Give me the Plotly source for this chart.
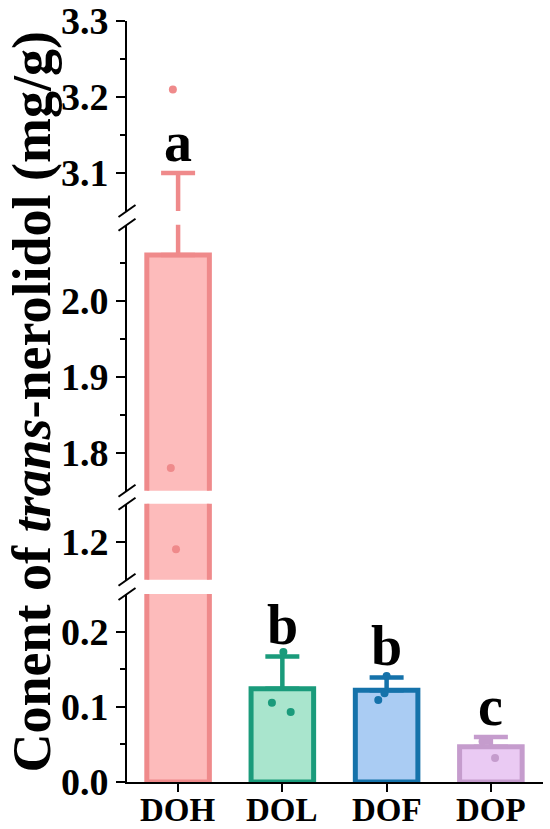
import plotly.graph_objects as go

# ---------------- data ----------------
groups = ["DOH", "DOL", "DOF", "DOP"]
means = [2.06, 0.124, 0.122, 0.047]
sds = [1.04, 0.043, 0.017, 0.013]
letters = ["a", "b", "b", "c"]
pts_DOH = [3.21, 1.78, 1.19]
pts_DOL = [0.173, 0.1055, 0.093]
pts_DOF = [0.141, 0.118, 0.109]
pts_DOP = [0.055, 0.054, 0.032]
jit_DOH = [-0.05, -0.07, -0.02]
jit_DOL = [0.01, -0.10, 0.08]
jit_DOF = [0.00, -0.02, -0.08]
jit_DOP = [-0.04, -0.08, 0.04]

points = [pts_DOH, pts_DOL, pts_DOF, pts_DOP]
jitters = [jit_DOH, jit_DOL, jit_DOF, jit_DOP]

fills = ["#FDBBBB", "#A9E5CD", "#AACCF3", "#EACAF3"]
lines = ["#EF8A8B", "#1A9B7B", "#1572AA", "#C59CCD"]

# ---------------- layout geometry ----------------
W, H = 550, 829
ML, MR, MT, MB = 127, 7, 21, 47
PW, PH = W - ML - MR, H - MT - MB

def py(pix):  # pixel y -> paper y
    return (H - MB - pix) / PH

def px(pix):
    return (pix - ML) / PW

# segments bottom -> top: (axis name, range, pixel bottom, pixel top, major ticks, minor ticks)
segments = [
    ("y",  [0.0, 0.25], 782.0, 594.0, [0.0, 0.1, 0.2], [0.05, 0.15]),
    ("y2", [1.15, 1.25], 579.7, 503.7, [1.2], []),
    ("y3", [1.75, 2.10], 490.7, 224.7, [1.8, 1.9, 2.0], [1.85, 1.95, 2.05]),
    ("y4", [3.05, 3.30], 211.0, 21.0, [3.1, 3.2, 3.3], [3.15, 3.25]),
]

FONT = "Liberation Serif"
fig = go.Figure()

for ax, rng, pb, pt, maj, mnr in segments:
    for i, g in enumerate(groups):
        fig.add_trace(go.Bar(
            x=[i], y=[means[i]], width=0.6, yaxis=ax, xaxis="x",
            marker=dict(color=fills[i], line=dict(color=lines[i], width=5)),
            error_y=dict(type="data", array=[sds[i]], arrayminus=[0], symmetric=False,
                         color=lines[i], thickness=4.5, width=17),
            showlegend=False, hoverinfo="skip"))
    for i, g in enumerate(groups):
        fig.add_trace(go.Scatter(
            x=[i + j for j in jitters[i]], y=points[i], mode="markers", yaxis=ax, xaxis="x",
            marker=dict(color=lines[i], size=8), showlegend=False, hoverinfo="skip"))

layout_axes = {}
for k, (ax, rng, pb, pt, maj, mnr) in enumerate(segments):
    name = "yaxis" if ax == "y" else "yaxis" + ax[1:]
    layout_axes[name] = dict(
        domain=[py(pb), py(pt)], range=rng, anchor="x", automargin=False,
        showline=True, linecolor="black", linewidth=2,
        ticks="outside", ticklen=9, tickwidth=2, tickcolor="black",
        tickvals=maj, ticktext=["%.1f" % v for v in maj],
        tickfont=dict(family=FONT, size=38, color="black", weight="bold"),
        minor=dict(tickvals=mnr, ticks="outside", ticklen=5, tickwidth=2, tickcolor="black"),
        showgrid=False, zeroline=False, fixedrange=True,
    )

fig.update_layout(
    width=W, height=H,
    margin=dict(l=ML, r=MR, t=MT, b=MB, pad=0, autoexpand=False),
    paper_bgcolor="white", plot_bgcolor="white",
    barmode="overlay",
    xaxis=dict(range=[-0.49, 3.5], tickvals=list(range(len(groups))), showticklabels=False,
               showline=True, linecolor="black", linewidth=2, automargin=False,
               ticks="outside", ticklen=8, tickwidth=2, tickcolor="black",
               showgrid=False, zeroline=False, anchor="y", fixedrange=True),
    **layout_axes,
)

# category labels (drawn as annotations so they sit close under the ticks)
for i, g in enumerate(groups):
    fig.add_annotation(x=i, y=py(810), xref="x", yref="paper", text=g, showarrow=False,
                       xanchor="center", yanchor="middle",
                       font=dict(family=FONT, size=33, color="black", weight="bold"))

# break marks
for ax, rng, pb, pt, maj, mnr in segments:
    ends = []
    if ax != "y":
        ends.append(pb)
    if ax != "y4":
        ends.append(pt)
    for e in ends:
        fig.add_shape(type="line", xref="paper", yref="paper",
                      x0=px(118.5), x1=px(135.5), y0=py(e + 6), y1=py(e - 6),
                      line=dict(color="black", width=2))

# significance letters
for i, g in enumerate(groups):
    top = means[i] + sds[i]
    yref = "y4" if top > 3 else "y"
    fig.add_annotation(x=i, y=top, xref="x", yref=yref, text=letters[i], showarrow=False,
                       yanchor="bottom", yshift=-2,
                       font=dict(family=FONT, size=56, color="black", weight="bold"))

# y title
fig.add_annotation(x=px(31), y=0.5, xref="paper", yref="paper",
                   text="Conent of <i>trans</i>-nerolidol (mg/g)", textangle=-90,
                   showarrow=False, xanchor="center", yanchor="middle",
                   font=dict(family=FONT, size=54, color="black", weight="bold"))

fig.write_html("out.html", config={"displayModeBar": False},
               post_script="document.body.style.margin='0px';document.body.style.overflow='hidden';")
